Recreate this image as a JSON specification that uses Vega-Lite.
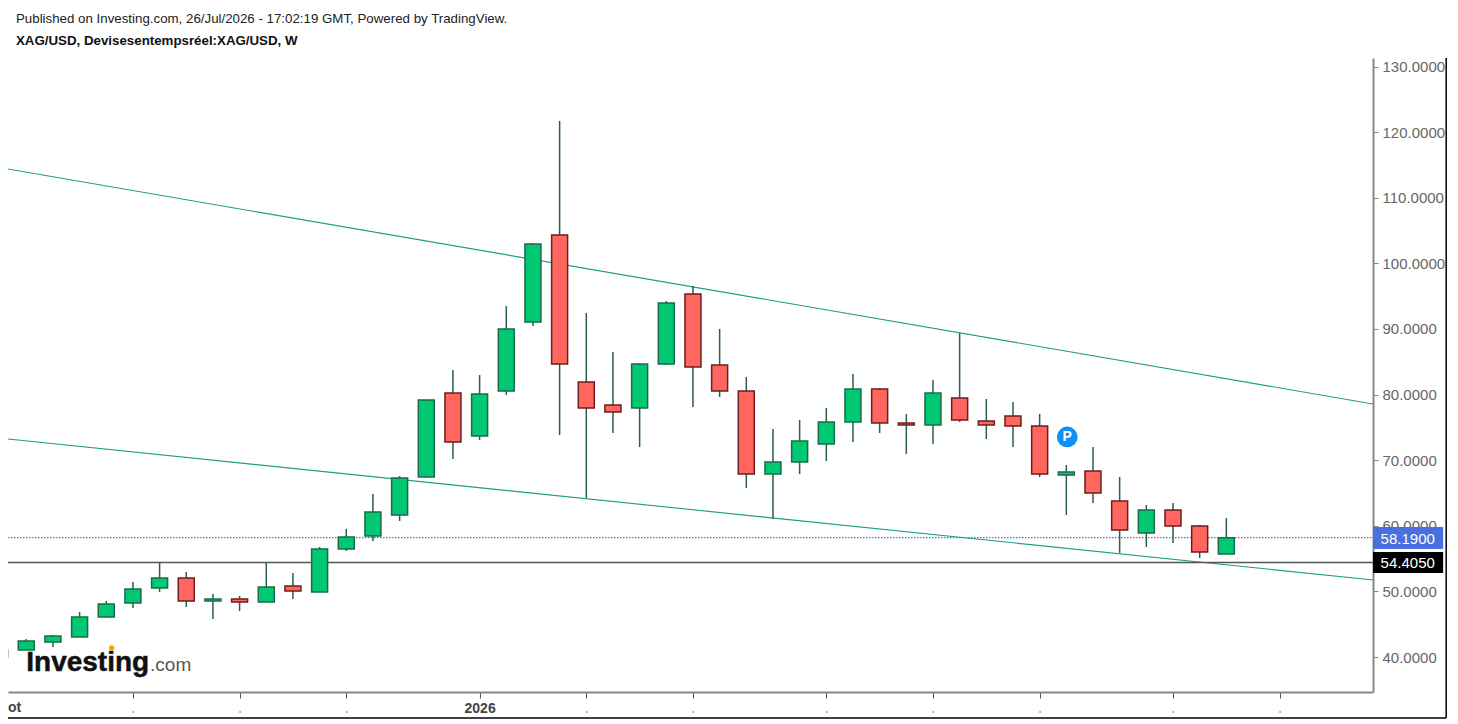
{
  "$schema": "https://vega.github.io/schema/vega-lite/v6.json",
  "width": 1365,
  "height": 634,
  "autosize": {"type": "none"},
  "padding": {"left": 8, "top": 58, "right": 85, "bottom": 32},
  "background": "white",
  "title": {
    "text": "Published on Investing.com, 26/Jul/2026 - 17:02:19 GMT, Powered by TradingView.",
    "subtitle": "XAG/USD, Devisesentempsréel:XAG/USD, W",
    "anchor": "start",
    "frame": "group",
    "font": "Liberation Sans",
    "fontSize": 13.3,
    "fontWeight": "normal",
    "color": "#222222",
    "subtitleFont": "Liberation Sans",
    "subtitleFontSize": 13.3,
    "subtitleFontWeight": "bold",
    "subtitleColor": "#111111",
    "subtitlePadding": 9,
    "dx": 8,
    "offset": 10
  },
  "datasets": {
    "candles": [
      {"date": "2025-09-01", "open": 40.0, "high": 41.5, "low": 39.5, "close": 41.07},
      {"date": "2025-09-08", "open": 41.07, "high": 42.74, "low": 41.07, "close": 42.44},
      {"date": "2025-09-15", "open": 42.29, "high": 43.35, "low": 41.52, "close": 43.2},
      {"date": "2025-09-22", "open": 43.05, "high": 46.86, "low": 43.05, "close": 46.1},
      {"date": "2025-09-29", "open": 46.1, "high": 48.54, "low": 46.02, "close": 48.08},
      {"date": "2025-10-06", "open": 48.23, "high": 51.43, "low": 47.47, "close": 50.37},
      {"date": "2025-10-13", "open": 50.52, "high": 54.405, "low": 49.91, "close": 52.04},
      {"date": "2025-10-20", "open": 52.04, "high": 52.96, "low": 47.62, "close": 48.54},
      {"date": "2025-10-27", "open": 48.54, "high": 49.6, "low": 45.79, "close": 48.84},
      {"date": "2025-11-03", "open": 48.84, "high": 49.3, "low": 47.01, "close": 48.38},
      {"date": "2025-11-10", "open": 48.38, "high": 54.405, "low": 48.38, "close": 50.67},
      {"date": "2025-11-17", "open": 50.82, "high": 52.8, "low": 48.84, "close": 50.06},
      {"date": "2025-11-24", "open": 49.91, "high": 56.77, "low": 49.91, "close": 56.46},
      {"date": "2025-12-01", "open": 56.46, "high": 59.51, "low": 56.16, "close": 58.29},
      {"date": "2025-12-08", "open": 58.45, "high": 64.85, "low": 57.68, "close": 62.1},
      {"date": "2025-12-15", "open": 61.65, "high": 67.59, "low": 60.73, "close": 67.29},
      {"date": "2025-12-22", "open": 67.44, "high": 79.18, "low": 67.29, "close": 79.18},
      {"date": "2025-12-29", "open": 80.24, "high": 83.75, "low": 70.18, "close": 72.77},
      {"date": "2026-01-05", "open": 73.69, "high": 82.99, "low": 73.08, "close": 80.09},
      {"date": "2026-01-12", "open": 80.55, "high": 93.51, "low": 79.94, "close": 90.0},
      {"date": "2026-01-19", "open": 91.07, "high": 103.11, "low": 90.46, "close": 102.96},
      {"date": "2026-01-26", "open": 104.33, "high": 121.71, "low": 73.84, "close": 84.66},
      {"date": "2026-02-02", "open": 81.92, "high": 92.44, "low": 64.24, "close": 77.96},
      {"date": "2026-02-09", "open": 78.41, "high": 86.49, "low": 74.15, "close": 77.35},
      {"date": "2026-02-16", "open": 77.96, "high": 84.82, "low": 72.01, "close": 84.66},
      {"date": "2026-02-23", "open": 84.66, "high": 94.27, "low": 84.51, "close": 93.96},
      {"date": "2026-03-02", "open": 95.34, "high": 96.55, "low": 78.11, "close": 84.21},
      {"date": "2026-03-09", "open": 84.51, "high": 90.0, "low": 79.63, "close": 80.55},
      {"date": "2026-03-16", "open": 80.55, "high": 82.68, "low": 65.76, "close": 67.9},
      {"date": "2026-03-23", "open": 67.9, "high": 74.76, "low": 61.04, "close": 69.73},
      {"date": "2026-03-30", "open": 69.73, "high": 76.13, "low": 67.9, "close": 72.93},
      {"date": "2026-04-06", "open": 72.47, "high": 77.96, "low": 69.88, "close": 75.82},
      {"date": "2026-04-13", "open": 75.82, "high": 83.14, "low": 72.77, "close": 80.85},
      {"date": "2026-04-20", "open": 80.85, "high": 81.01, "low": 74.15, "close": 75.67},
      {"date": "2026-04-27", "open": 75.67, "high": 77.04, "low": 70.95, "close": 75.37},
      {"date": "2026-05-04", "open": 75.37, "high": 82.23, "low": 72.47, "close": 80.24},
      {"date": "2026-05-11", "open": 79.48, "high": 89.39, "low": 75.82, "close": 76.13},
      {"date": "2026-05-18", "open": 75.98, "high": 79.33, "low": 73.23, "close": 75.37},
      {"date": "2026-05-25", "open": 76.74, "high": 78.87, "low": 72.01, "close": 75.21},
      {"date": "2026-06-01", "open": 75.21, "high": 77.04, "low": 67.44, "close": 67.9},
      {"date": "2026-06-08", "open": 67.74, "high": 69.27, "low": 61.65, "close": 68.2},
      {"date": "2026-06-15", "open": 68.35, "high": 72.01, "low": 63.48, "close": 65.0},
      {"date": "2026-06-22", "open": 63.78, "high": 67.44, "low": 55.85, "close": 59.36},
      {"date": "2026-06-29", "open": 58.9, "high": 63.17, "low": 56.77, "close": 62.41},
      {"date": "2026-07-06", "open": 62.41, "high": 63.48, "low": 57.38, "close": 59.97},
      {"date": "2026-07-13", "open": 59.97, "high": 60.12, "low": 55.09, "close": 56.01},
      {"date": "2026-07-20", "open": 55.7, "high": 61.19, "low": 55.7, "close": 58.19}
    ],
    "trendlines": [
      {"line": "upper", "date": "2025-09-03T05:00:00Z", "price": 114.39},
      {"line": "upper", "date": "2026-08-27T12:00:00Z", "price": 78.57},
      {"line": "lower", "date": "2025-09-03T05:00:00Z", "price": 73.23},
      {"line": "lower", "date": "2026-08-27T12:00:00Z", "price": 51.74}
    ],
    "frame": [
      {"date": "2026-09-15T17:00:00Z", "date2": "2026-09-15T17:00:00Z", "price": 131.31, "price2": 30.7},
      {"date": "2025-09-03T05:00:00Z", "date2": "2026-09-15T17:00:00Z", "price": 30.7, "price2": 30.7}
    ],
    "tags": [
      {"date": "2026-08-27T12:00:00Z", "date2": "2026-09-14T22:00:00Z", "price": 59.82, "price2": 56.46, "kind": "last"},
      {"date": "2026-08-27T12:00:00Z", "date2": "2026-09-14T22:00:00Z", "price": 56.01, "price2": 52.8, "kind": "line"}
    ]
  },
  "data": {"name": "candles"},
  "encoding": {
    "x": {
      "field": "date",
      "type": "temporal",
      "title": null,
      "scale": {
        "type": "utc",
        "padding": 0,
        "domain": [
          {"year": 2025, "month": 9, "date": 3, "hours": 5, "utc": true},
          {"year": 2026, "month": 8, "date": 27, "hours": 12, "utc": true}
        ]
      },
      "axis": {
        "grid": false,
        "values": [
          {"year": 2025, "month": 10, "date": 6, "utc": true},
          {"year": 2025, "month": 11, "date": 3, "utc": true},
          {"year": 2025, "month": 12, "date": 1, "utc": true},
          {"year": 2026, "month": 1, "date": 5, "utc": true},
          {"year": 2026, "month": 2, "date": 2, "utc": true},
          {"year": 2026, "month": 3, "date": 2, "utc": true},
          {"year": 2026, "month": 4, "date": 6, "utc": true},
          {"year": 2026, "month": 5, "date": 4, "utc": true},
          {"year": 2026, "month": 6, "date": 1, "utc": true},
          {"year": 2026, "month": 7, "date": 6, "utc": true},
          {"year": 2026, "month": 8, "date": 3, "utc": true}
        ],
        "labelExpr": "utcyear(datum.value) == 2026 && utcmonth(datum.value) == 0 ? '2026' : '.'",
        "labelFont": "Liberation Sans",
        "labelFontSize": 14,
        "labelFontWeight": "bold",
        "labelColor": {
          "condition": {"test": "utcyear(datum.value) == 2026 && utcmonth(datum.value) == 0", "value": "#444444"},
          "value": "#bbbbbb"
        },
        "labelOverlap": false,
        "labelFlush": false,
        "labelPadding": 3,
        "domainColor": "#888888",
        "domainWidth": 2,
        "tickColor": "#555555",
        "tickSize": 6
      }
    },
    "y": {
      "field": "price",
      "type": "quantitative",
      "title": null,
      "scale": {"domain": [34.665, 131.31], "nice": false, "zero": false},
      "axis": {
        "orient": "right",
        "grid": false,
        "values": [40, 50, 60, 70, 80, 90, 100, 110, 120, 130],
        "format": ".4f",
        "labelFont": "Liberation Sans",
        "labelFontSize": 15,
        "labelColor": "#666666",
        "labelPadding": 4,
        "labelOverlap": false,
        "domainColor": "#888888",
        "domainWidth": 2,
        "tickColor": "#888888",
        "tickSize": 5
      }
    }
  },
  "layer": [
    {
      "data": {"name": "trendlines"},
      "mark": {"type": "line", "stroke": "#1f9e85", "strokeWidth": 1.1, "clip": true},
      "encoding": {"detail": {"field": "line"}}
    },
    {
      "data": {"values": [{"date": "2025-09-03T05:00:00Z", "date2": "2026-08-27T12:00:00Z", "price": 58.19}]},
      "mark": {"type": "rule", "stroke": "#4a70e0", "strokeWidth": 1.2, "strokeDash": [1.5, 1.5]},
      "encoding": {"x2": {"field": "date2"}}
    },
    {
      "data": {"values": [{"date": "2025-09-03T05:00:00Z", "date2": "2026-08-27T12:00:00Z", "price": 54.405}]},
      "mark": {"type": "rule", "stroke": "#555555", "strokeWidth": 1.5},
      "encoding": {"x2": {"field": "date2"}}
    },
    {
      "mark": {"type": "rule", "stroke": "#2a5f48", "strokeWidth": 1.5, "clip": true},
      "encoding": {
        "y": {"field": "low", "type": "quantitative", "title": null},
        "y2": {"field": "high"}
      }
    },
    {
      "mark": {"type": "bar", "size": 16, "strokeWidth": 1.5, "clip": true},
      "encoding": {
        "y": {"field": "open", "type": "quantitative", "title": null},
        "y2": {"field": "close"},
        "fill": {
          "condition": {"test": "datum.close >= datum.open", "value": "#00c873"},
          "value": "#ff6660"
        },
        "stroke": {
          "condition": {"test": "datum.close >= datum.open", "value": "#1b6b4a"},
          "value": "#6e1e1e"
        }
      }
    },
    {
      "data": {"values": [{"date": "2026-06-08T06:00:00Z", "price": 73.54}]},
      "mark": {"type": "point", "filled": true, "size": 430, "color": "#0e90f8", "opacity": 1}
    },
    {
      "data": {"values": [{"date": "2026-06-08T06:00:00Z", "price": 73.54, "label": "P"}]},
      "mark": {"type": "text", "font": "Liberation Sans", "fontSize": 14, "fontWeight": "bold", "color": "white", "align": "center", "baseline": "middle"},
      "encoding": {"text": {"field": "label"}}
    },
    {
      "data": {"values": [{"date": "2025-09-08", "price": 37.87, "label": "Investing"}]},
      "mark": {"type": "text", "font": "Liberation Sans", "fontSize": 28, "fontWeight": "bold", "color": "#111111", "stroke": "#111111", "strokeWidth": 0.5, "align": "left", "baseline": "alphabetic"},
      "encoding": {"text": {"field": "label"}}
    },
    {
      "data": {"values": [{"date": "2025-10-10T12:00:00Z", "price": 37.87, "label": ".com"}]},
      "mark": {"type": "text", "font": "Liberation Sans", "fontSize": 19, "color": "#555555", "align": "left", "baseline": "alphabetic"},
      "encoding": {"text": {"field": "label"}}
    },
    {
      "data": {"values": [{"date": "2025-09-30T10:00:00Z", "price": 41.37}]},
      "mark": {"type": "point", "filled": true, "size": 28, "color": "#f7a600", "opacity": 1}
    },
    {
      "data": {"values": [{"date": "2025-09-03T05:00:00Z", "price": 32.3, "label": "ot"}]},
      "mark": {"type": "text", "font": "Liberation Sans", "fontSize": 14, "fontWeight": "bold", "color": "#444444", "align": "left", "baseline": "middle"},
      "encoding": {"text": {"field": "label"}}
    },
    {
      "data": {"name": "tags"},
      "mark": {"type": "rect"},
      "encoding": {
        "x2": {"field": "date2"},
        "y2": {"field": "price2"},
        "fill": {
          "condition": {"test": "datum.kind == 'last'", "value": "#4a70e0"},
          "value": "#000000"
        }
      }
    },
    {
      "data": {"values": [
        {"date": "2026-08-29T12:00:00Z", "price": 58.05, "label": "58.1900"},
        {"date": "2026-08-29T12:00:00Z", "price": 54.4, "label": "54.4050"}
      ]},
      "mark": {"type": "text", "font": "Liberation Sans", "fontSize": 15, "color": "white", "align": "left", "baseline": "middle"},
      "encoding": {"text": {"field": "label"}}
    },
    {
      "data": {"name": "frame"},
      "mark": {"type": "rule", "stroke": "#000000", "strokeWidth": 1.5},
      "encoding": {"x2": {"field": "date2"}, "y2": {"field": "price2"}}
    }
  ],
  "config": {"view": {"stroke": null}}
}
